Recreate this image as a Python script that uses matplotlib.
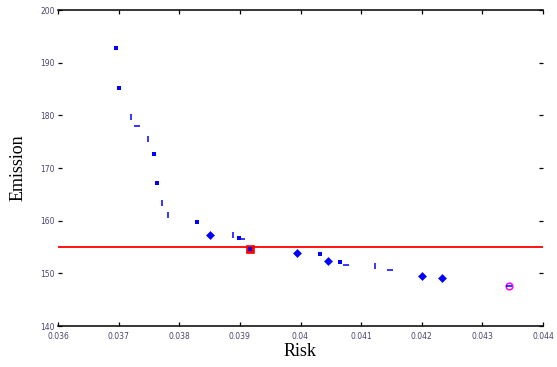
import matplotlib
matplotlib.use("Agg")
import matplotlib.pyplot as plt

# Data
dots_x = [0.03696, 0.03701, 0.03758, 0.03763, 0.03830, 0.03898, 0.04032, 0.04065]
dots_y = [192.7, 185.1, 172.7, 167.2, 159.8, 156.8, 153.6, 152.2]

vbar_x = [0.03720, 0.03749, 0.03772, 0.03782, 0.03889, 0.04123]
vbar_y = [179.6, 175.5, 163.3, 161.0, 157.2, 151.3]

hbar_x = [0.03730, 0.03903, 0.04075, 0.04148, 0.04344]
hbar_y = [177.9, 156.5, 151.5, 150.7, 147.6]

diam_x = [0.03850, 0.03994, 0.04046, 0.04200, 0.04234]
diam_y = [157.3, 153.8, 152.4, 149.4, 149.1]

best_x = [0.03916]
best_y = [154.6]

special_x = [0.04344]
special_y = [147.6]

threshold = 155

x_ticks = [0.036, 0.037, 0.038, 0.039, 0.040, 0.041, 0.042, 0.043, 0.044]
x_tick_labels = ["0.036", "0.037", "0.038", "0.039", "0.04", "0.041", "0.042", "0.043", "0.044"]
y_ticks = [140, 150, 160, 170, 180, 190, 200]
y_tick_labels = ["140", "150", "160", "170", "180", "190", "200"]

fig = plt.figure(figsize=(5.57, 3.67), dpi=100)
ax = fig.add_axes([58/557, 1-326/367, (543-58)/557, (326-10)/367])

ax.axhline(threshold, color="red", lw=1.3, zorder=1)

ax.plot(best_x, best_y, ls="none", marker="s", ms=5.6, mfc="red", mec="red", mew=0.5, zorder=2)
ax.plot(special_x, special_y, ls="none", marker="o", ms=4.8, mfc="white", mec="magenta", mew=1.1, zorder=2)

ax.plot(dots_x, dots_y, ls="none", marker="s", ms=2.2, mew=0, color="blue", zorder=3)
ax.plot(best_x, best_y, ls="none", marker="s", ms=3.2, mew=0, color="blue", zorder=3)
ax.plot(vbar_x, vbar_y, ls="none", marker="|", ms=4, mew=1.1, color="blue", zorder=3)
ax.plot(hbar_x, hbar_y, ls="none", marker="_", ms=4, mew=1.1, color="blue", zorder=3)
ax.plot(diam_x, diam_y, ls="none", marker="D", ms=3.6, mew=0.4, color="blue", zorder=3)

ax.set_xlim(0.036, 0.044)
ax.set_ylim(140, 200)
ax.set_xticks(x_ticks)
ax.set_xticklabels(x_tick_labels)
ax.set_yticks(y_ticks)
ax.set_yticklabels(y_tick_labels)

ax.spines["left"].set_visible(False)
ax.spines["right"].set_visible(False)
ax.spines["top"].set_linewidth(1.1)
ax.spines["bottom"].set_linewidth(1.1)

ax.tick_params(axis="both", which="both", direction="in", length=3, width=0.9,
               top=True, right=True, labelsize=5.5, labelcolor="#4a4470")
ax.tick_params(axis="x", pad=4)
ax.tick_params(axis="y", pad=2.5)

ax.set_xlabel("Risk", family="Liberation Serif", fontsize=13, labelpad=2)
ax.set_ylabel("Emission", family="Liberation Serif", fontsize=13, labelpad=10)

fig.savefig("out.png", dpi=100)
